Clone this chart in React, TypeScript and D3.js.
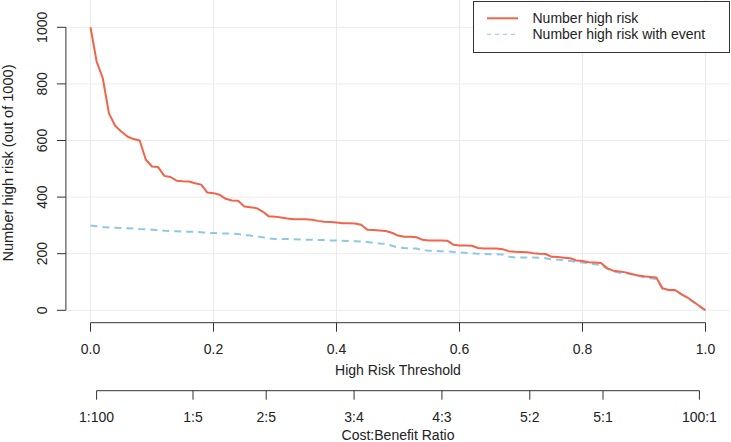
import React from "react";
import * as d3 from "d3";

const thresholds: number[] = d3.range(0, 101).map((i) => i / 100);

const highRisk: number[] = [
  1000, 879, 820, 696, 652, 632, 614, 605, 600, 532, 508, 506, 475, 471, 458, 456, 455, 449, 444, 416, 414,
  408, 394, 388, 387, 367, 364, 361, 349, 332, 331, 328, 324, 322, 322, 322, 320, 316, 313, 312, 310,
  308, 308, 307, 302, 285, 284, 282, 280, 274, 264, 260, 260, 258, 249, 247, 247, 247, 246, 232, 229,
  229, 228, 220, 218, 218, 218, 216, 209, 207, 206, 205, 202, 200, 199, 189, 188, 186, 184, 176, 174,
  170, 169, 167, 149, 140, 137, 134, 128, 123, 120, 118, 116, 78, 72, 72, 58, 46, 31, 15, 0,
];

const highRiskEvent: number[] = [
  300, 297, 294, 293, 292, 291, 290, 289, 287, 286, 285, 284, 281, 280, 279, 278, 278, 277, 276, 273, 273,
  272, 271, 271, 270, 266, 264, 261, 258, 254, 252, 252, 252, 251, 250, 249, 249, 248, 248, 247, 247,
  246, 245, 244, 243, 241, 238, 236, 235, 228, 222, 220, 219, 218, 213, 210, 210, 209, 209, 206, 204,
  203, 202, 200, 199, 198, 198, 197, 190, 187, 187, 187, 187, 186, 184, 180, 179, 177, 174, 171, 169,
  166, 163, 160, 147, 138, 133, 131, 127, 123, 117, 113, 111, 76, 71, 69, 57, 45, 30, 15, 0,
];

const xTicks: number[] = [0, 0.2, 0.4, 0.6, 0.8, 1.0];
const yTicks: number[] = [0, 200, 400, 600, 800, 1000];
const cbLabels: string[] = ["1:100", "1:5", "2:5", "3:4", "4:3", "5:2", "5:1", "100:1"];
const cbCost: number[] = [1, 1, 2, 3, 4, 5, 5, 100];
const cbBenefit: number[] = [100, 5, 5, 4, 3, 2, 1, 1];

const legendLabels: string[] = ["Number high risk", "Number high risk with event"];

const RED = "#F2644A";
const BLUE = "#8DC9E6";
const FONT = "'Liberation Sans', Arial, Helvetica, sans-serif";

export default function App() {
  const W = 731;
  const H = 442;
  const x = d3.scaleLinear().domain([0, 1]).range([90.5, 705.5]);
  const y = d3.scaleLinear().domain([0, 1000]).range([310.3, 27.3]);
  const plotLeft = x(-0.04);
  const plotRight = x(1.04);
  const plotBottom = 321.8;

  const line = d3
    .line<number>()
    .x((_, i) => x(thresholds[i]))
    .y((d) => y(d));

  const axisY = 322.7;
  const cbY = 390.7;
  const cbPos = cbCost.map((c, i) => c / (c + cbBenefit[i]));

  return (
    <svg
      width={W}
      height={H}
      style={{ position: "absolute", left: 0, top: 0, background: "#fff" }}
      fontFamily={FONT}
    >
      <rect x={0} y={0} width={W} height={H} fill="#fff" />
      {/* grid */}
      {xTicks.map((t) => (
        <line key={"gx" + t} x1={x(t)} x2={x(t)} y1={0} y2={plotBottom} stroke="#EBEBEB" strokeWidth={1} />
      ))}
      {yTicks.map((t) => (
        <line key={"gy" + t} x1={plotLeft} x2={plotRight} y1={y(t)} y2={y(t)} stroke="#EBEBEB" strokeWidth={1} />
      ))}

      {/* curves */}
      <path d={line(highRiskEvent) || ""} fill="none" stroke={BLUE} strokeWidth={2} strokeDasharray="7,5" />
      <path d={line(highRisk) || ""} fill="none" stroke={RED} strokeWidth={2} strokeLinejoin="round" />

      {/* y axis */}
      <line x1={plotLeft} x2={plotLeft} y1={y(0)} y2={y(1000)} stroke="#333" strokeWidth={1} />
      {yTicks.map((t) => (
        <g key={"yt" + t}>
          <line x1={plotLeft - 9} x2={plotLeft} y1={y(t)} y2={y(t)} stroke="#333" strokeWidth={1} />
          <text
            transform={`translate(${46.5},${y(t)}) rotate(-90)`}
            textAnchor="middle"
            fontSize={14}
            fill="#222"
          >
            {String(t)}
          </text>
        </g>
      ))}
      <text
        transform={`translate(${13},${163}) rotate(-90)`}
        textAnchor="middle"
        fontSize={14.6}
        fill="#222"
      >
        Number high risk (out of 1000)
      </text>

      {/* x axis */}
      <line x1={x(0)} x2={x(1)} y1={axisY} y2={axisY} stroke="#333" strokeWidth={1} />
      {xTicks.map((t) => (
        <g key={"xt" + t}>
          <line x1={x(t)} x2={x(t)} y1={axisY} y2={axisY + 9} stroke="#333" strokeWidth={1} />
          <text x={x(t)} y={354} textAnchor="middle" fontSize={14} fill="#222">
            {t.toFixed(1)}
          </text>
        </g>
      ))}
      <text x={(x(0) + x(1)) / 2} y={374.5} textAnchor="middle" fontSize={14} fill="#222">
        High Risk Threshold
      </text>

      {/* cost:benefit axis */}
      <line x1={x(cbPos[0])} x2={x(cbPos[cbPos.length - 1])} y1={cbY} y2={cbY} stroke="#333" strokeWidth={1} />
      {cbPos.map((p, i) => (
        <g key={"cb" + i}>
          <line x1={x(p)} x2={x(p)} y1={cbY} y2={cbY + 9} stroke="#333" strokeWidth={1} />
          <text x={x(p)} y={422} textAnchor="middle" fontSize={14} fill="#222">
            {cbLabels[i]}
          </text>
        </g>
      ))}
      <text x={(x(0) + x(1)) / 2} y={440} textAnchor="middle" fontSize={14} fill="#222">
        Cost:Benefit Ratio
      </text>

      {/* legend */}
      <rect x={473.5} y={1.5} width={256} height={51} fill="#fff" stroke="#333" strokeWidth={1} />
      <line x1={487} x2={518} y1={18.3} y2={18.3} stroke={RED} strokeWidth={2} />
      <line x1={487} x2={518} y1={34.3} y2={34.3} stroke={BLUE} strokeWidth={1} strokeDasharray="4,4" />
      <text x={532.5} y={23.3} fontSize={14} fill="#222">
        {legendLabels[0]}
      </text>
      <text x={532.5} y={39.3} fontSize={14} fill="#222">
        {legendLabels[1]}
      </text>
    </svg>
  );
}
